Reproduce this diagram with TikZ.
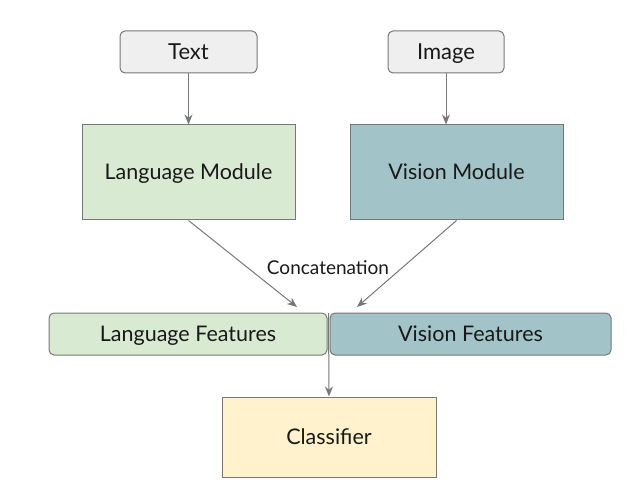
\documentclass[tikz,border=0pt]{standalone}
\usepackage{fontspec}
\setmainfont{Lato}
\usepackage{tikz}
\usetikzlibrary{shapes, arrows.meta, positioning}
\definecolor{ingray}{HTML}{EFEFEF}
\definecolor{langgreen}{HTML}{D9EAD3}
\definecolor{visteal}{HTML}{A2C4C9}
\definecolor{clsyellow}{HTML}{FFF2CC}
\definecolor{edgegray}{HTML}{777777}
\tikzstyle{inbox} = [draw=edgegray, fill=ingray, rounded corners=5pt, line width=1pt, minimum width=137pt, minimum height=42pt, text height=15.5pt, text depth=1pt, font=\fontsize{22}{26}\selectfont]
\tikzstyle{modbox} = [draw=edgegray, line width=1pt, minimum width=213pt, minimum height=95pt, text height=15pt, text depth=1pt, font=\fontsize{21.5}{25}\selectfont]
\tikzstyle{featbox} = [draw=edgegray, rounded corners=5pt, line width=1pt, minimum height=42pt, text height=15pt, text depth=1pt, font=\fontsize{21.5}{25}\selectfont]
\tikzstyle{line} = [draw=edgegray, line width=1pt, -{Stealth[length=10pt, width=8pt]}]

\begin{document}
\begin{tikzpicture}[x=1pt, y=-1pt, text=black!90]
			\useasboundingbox (0, 0) rectangle (637, 497);
			\node [inbox] (text) at (188.5, 52) {Text};
			\node [inbox, minimum width=116pt] (image) at (446, 52) {Image};
			\node [modbox, fill=langgreen] (langmod) at (188.5, 172.5) {Language Module};
			\node [modbox, fill=visteal] (vismod) at (456.5, 172.5) {Vision Module};
			\node [featbox, fill=langgreen, minimum width=278pt] (langfeat) at (188, 334) {Language Features};
			\node [featbox, fill=visteal, minimum width=281pt] (visfeat) at (470.5, 334) {Vision Features};
			\node [modbox, fill=clsyellow, minimum width=214pt, minimum height=80pt] (cls) at (329, 437) {Classifier};
			\node [font=\fontsize{19}{22}\selectfont] (concat) at (328, 268) {Concatenation};

			\coordinate (langin) at (297, 307);
			\coordinate (visin) at (357, 307);
			\coordinate (joint) at (328.5, 313);

			\path [line] (text) -- (langmod);
			\path [line] (image.south) -- (image.south |- vismod.north);
			\path [line] (langmod.south) -- (langin);
			\path [line] (vismod.south) -- (visin);
			\path [line] (joint) -- (cls.north);
		\end{tikzpicture}
\end{document}
